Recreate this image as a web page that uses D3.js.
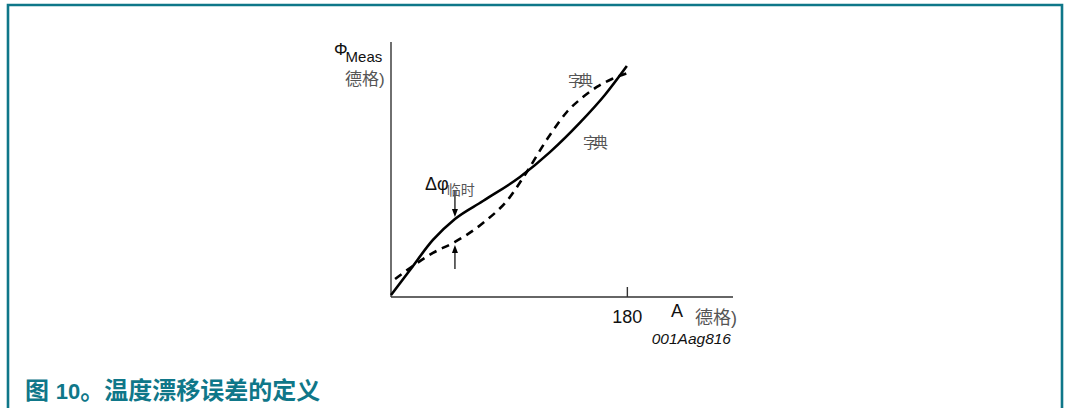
<!DOCTYPE html>
<html>
<head>
<meta charset="utf-8">
<script src="https://cdn.jsdelivr.net/npm/d3@7"></script>
<style>
  html, body { margin: 0; padding: 0; background: #fff; }
  svg { display: block; }
  text { font-family: "Liberation Sans", Arial, "Noto Sans CJK SC", sans-serif; }
</style>
</head>
<body>
<svg id="chart" width="1065" height="408"></svg>
<script>
// Angle (degrees) along the horizontal axis, measured angle along the vertical axis
const xMax = 261;
const yMax = 194.5;
const xTicks = [180];

// Measured curve (solid)
const solidX = [0, 14.5, 32, 48.8, 70.2, 98.4, 121.3, 144.2, 163.2, 180];
const solidY = [1.5, 20.6, 43.5, 59.5, 73.2, 91.5, 110.5, 133.0, 154.1, 176.2];

// Curve after temperature drift (dashed)
const dashX = [3.1, 14.5, 32, 48.8, 70.2, 90.8, 100.7, 121.3, 134.2, 146.5, 157.1, 168.6, 180.8];
const dashY = [13.7, 22.1, 33.6, 42.0, 56.4, 76.3, 90.8, 123.6, 141.1, 152.5, 160.2, 166.3, 170.9];

// Position of the Δφ marker
const deltaAt = 48.8;

const svg = d3.select("#chart");
const teal = "#0f7789";

// Frame
svg.append("path")
  .attr("d", "M8,408 V5 H1062 V408")
  .attr("fill", "none")
  .attr("stroke", teal)
  .attr("stroke-width", 2.6);

const x = d3.scaleLinear().domain([0, xMax]).range([391, 733]);
const y = d3.scaleLinear().domain([0, yMax]).range([297, 42]);

// Axes
svg.append("line")
  .attr("x1", x(0)).attr("x2", x(0))
  .attr("y1", y(yMax)).attr("y2", y(0))
  .attr("stroke", "#333").attr("stroke-width", 1.4);
svg.append("line")
  .attr("x1", x(0)).attr("x2", x(xMax))
  .attr("y1", y(0)).attr("y2", y(0))
  .attr("stroke", "#333").attr("stroke-width", 1.4);

const xAxis = svg.append("g").attr("transform", `translate(0,${y(0)})`)
  .call(d3.axisBottom(x).tickValues(xTicks).tickSize(-10).tickPadding(13));
xAxis.select(".domain").remove();
xAxis.selectAll(".tick line").attr("stroke", "#333").attr("stroke-width", 1.4);
xAxis.selectAll(".tick text")
  .attr("font-size", 18).attr("fill", "#111")
  .attr("font-family", "Liberation Sans, Arial, sans-serif");

// Curves
const line = d3.line().x(d => x(d[0])).y(d => y(d[1])).curve(d3.curveMonotoneX);
const solid = solidX.map((v, i) => [v, solidY[i]]);
const dashed = dashX.map((v, i) => [v, dashY[i]]);

svg.append("path").datum(dashed)
  .attr("d", line)
  .attr("fill", "none")
  .attr("stroke", "#000")
  .attr("stroke-width", 2.6)
  .attr("stroke-dasharray", "8,6");

svg.append("path").datum(solid)
  .attr("d", line)
  .attr("fill", "none")
  .attr("stroke", "#000")
  .attr("stroke-width", 2.6);

// Δφ arrows: one down to the solid curve, one up to the dashed curve
function valueAt(pts, xv) {
  for (let i = 1; i < pts.length; i++) {
    if (pts[i][0] >= xv) {
      const t = (xv - pts[i - 1][0]) / (pts[i][0] - pts[i - 1][0]);
      return pts[i - 1][1] + t * (pts[i][1] - pts[i - 1][1]);
    }
  }
  return pts[pts.length - 1][1];
}
const ax = x(deltaAt);
const topTip = y(valueAt(solid, deltaAt)) - 2;
const botTip = y(valueAt(dashed, deltaAt)) + 3;

function arrow(x0, yFrom, yTip) {
  const dir = Math.sign(yTip - yFrom);
  svg.append("line")
    .attr("x1", x0).attr("x2", x0)
    .attr("y1", yFrom).attr("y2", yTip - dir * 6)
    .attr("stroke", "#000").attr("stroke-width", 1.2);
  svg.append("path")
    .attr("d", `M${x0 - 3},${yTip - dir * 8} L${x0},${yTip} L${x0 + 3},${yTip - dir * 8} Z`)
    .attr("fill", "#000");
}
arrow(ax, topTip - 26, topTip);
arrow(ax, botTip + 24, botTip);

// Labels
const gray = "#555";
const cjk = "Noto Sans CJK SC, sans-serif";

const phi = svg.append("text").attr("x", 334).attr("y", 55).attr("font-size", 17).attr("fill", "#111");
phi.append("tspan").text("Φ");
phi.append("tspan").attr("dy", 7).attr("font-size", 15).attr("dx", -2).text("Meas");
svg.append("text").attr("x", 345).attr("y", 85).attr("font-size", 17).attr("fill", gray)
  .attr("font-family", cjk).text("德格)");

const dphi = svg.append("text").attr("x", 425).attr("y", 190).attr("font-size", 18).attr("fill", "#111");
dphi.append("tspan").text("Δφ");
dphi.append("tspan").attr("dx", -2).attr("dy", 5).attr("font-size", 14).attr("fill", gray)
  .attr("font-family", cjk).text("临时");

svg.append("text").attr("x", 568).attr("y", 86).attr("font-size", 15).attr("fill", gray)
  .attr("letter-spacing", -5)
  .attr("font-family", cjk).text("字典");
svg.append("text").attr("x", 583).attr("y", 148).attr("font-size", 15).attr("fill", gray)
  .attr("letter-spacing", -5)
  .attr("font-family", cjk).text("字典");

svg.append("text").attr("x", 671).attr("y", 317).attr("font-size", 18).attr("fill", "#111").text("A");
svg.append("text").attr("x", 695).attr("y", 324).attr("font-size", 18).attr("fill", gray)
  .attr("font-family", cjk).text("德格)");

svg.append("text").attr("x", 731).attr("y", 344).attr("text-anchor", "end")
  .attr("font-size", 15.5).attr("font-style", "italic").attr("fill", "#111").text("001Aag816");

// Figure caption
const cap = svg.append("text").attr("x", 25).attr("y", 399).attr("font-size", 24).attr("font-weight", "bold")
  .attr("fill", teal).attr("font-family", cjk);
cap.append("tspan").text("图 ");
cap.append("tspan").attr("font-family", "Liberation Sans, Arial, sans-serif").attr("font-size", 22).text("10");
cap.append("tspan").text("。温度漂移误差的定义");
</script>
</body>
</html>
